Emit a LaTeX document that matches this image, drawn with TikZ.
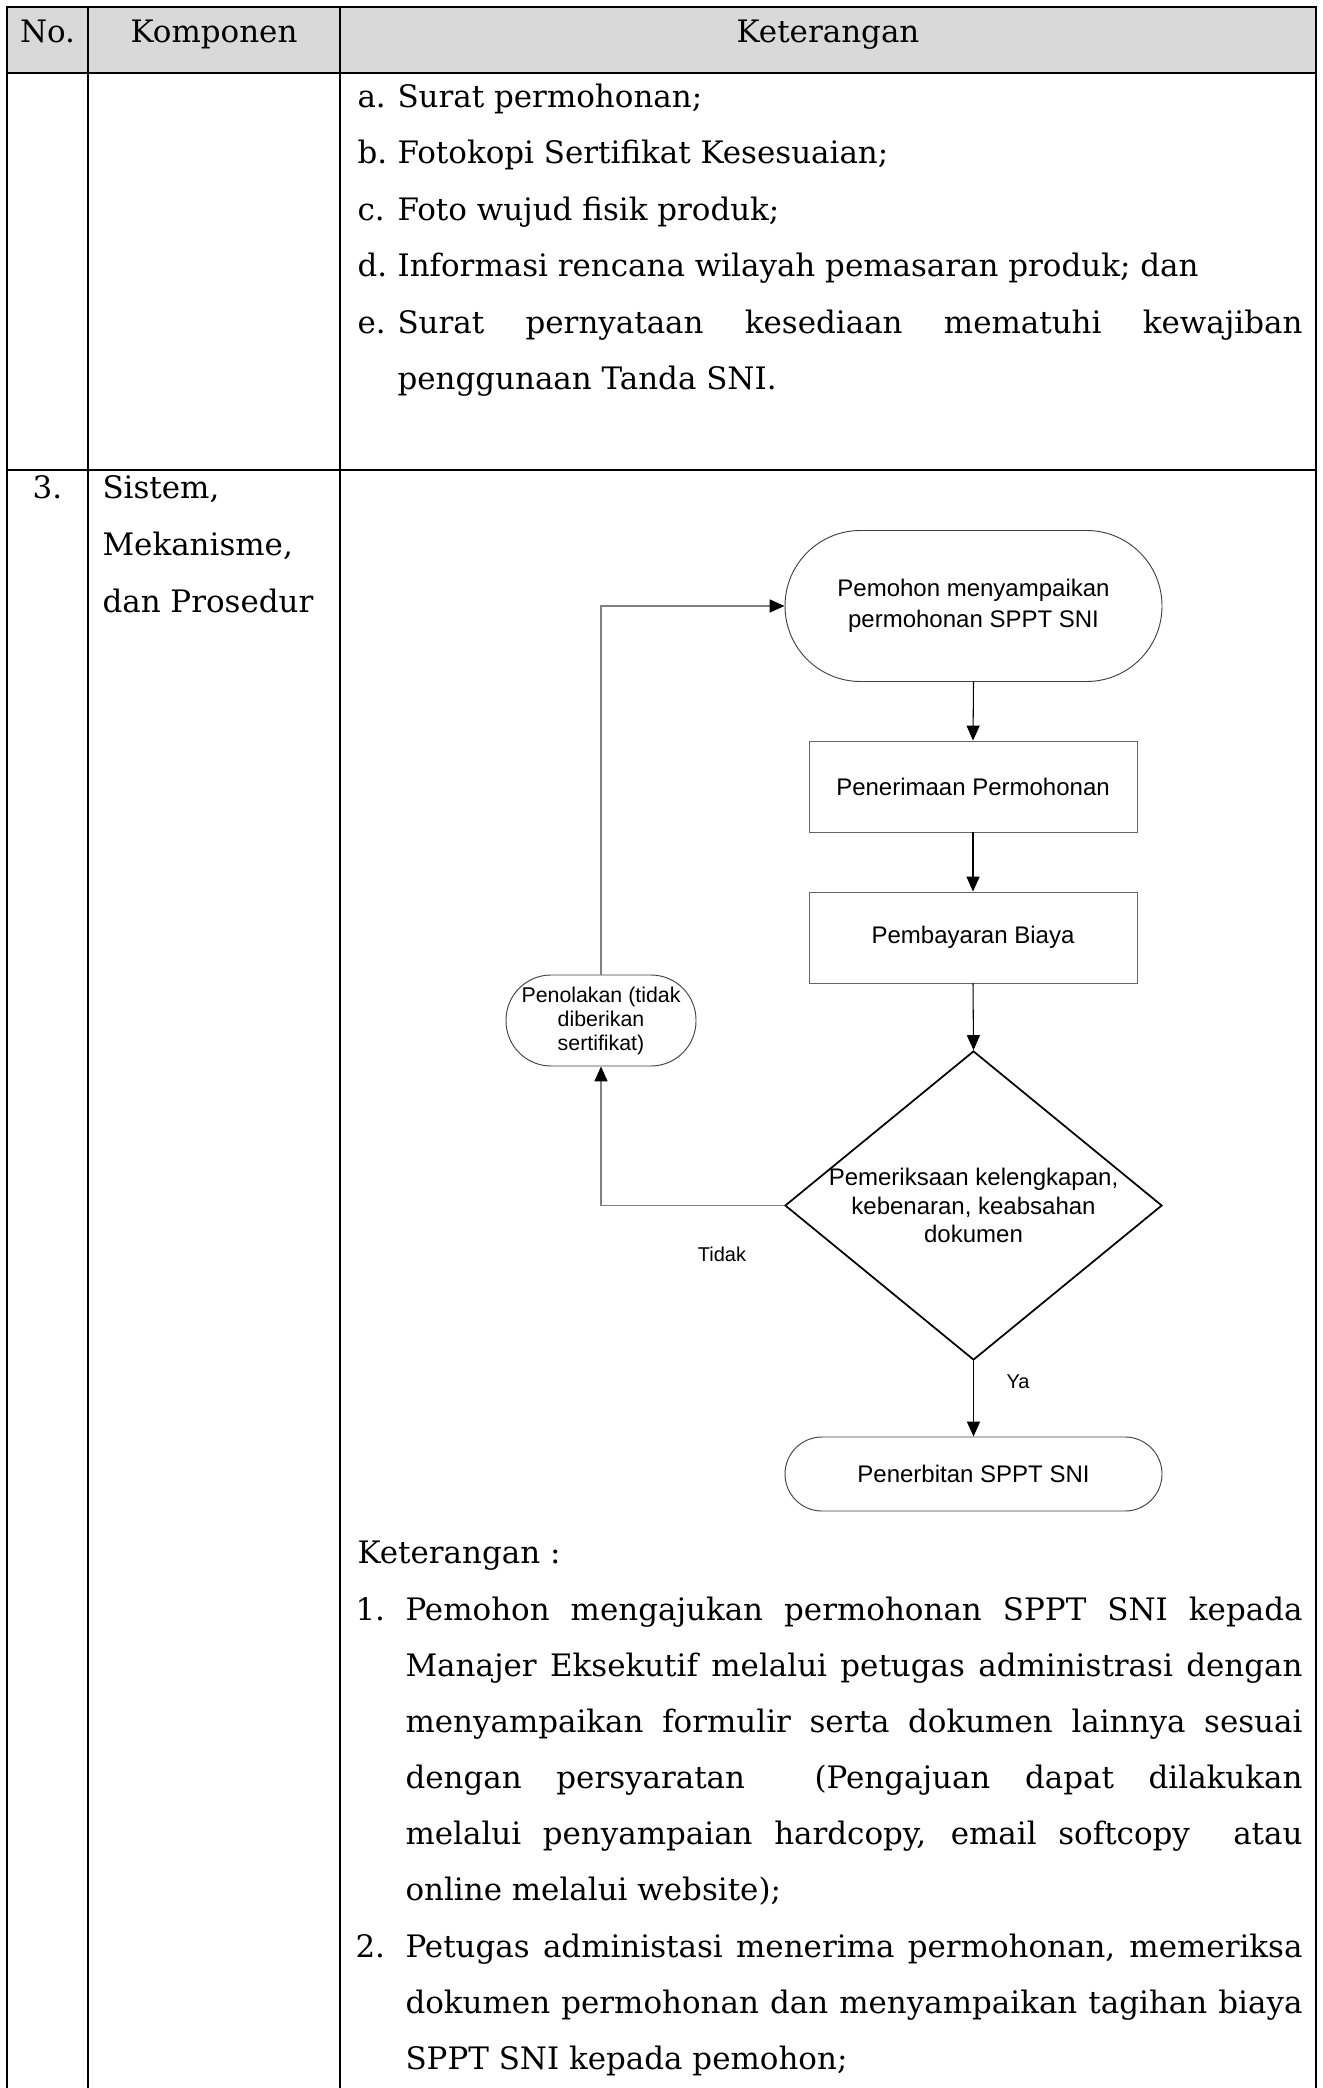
\documentclass[tikz,border=0pt]{standalone}
\usepackage{fontspec}
\setmainfont{DejaVu Serif}
\newfontfamily\arialf{Liberation Sans}
\usetikzlibrary{shapes.geometric,arrows.meta}
\begin{document}
\begin{tikzpicture}[x=0.375pt,y=-0.375pt,
  tbl/.style={line width=0.75pt,black},
  serif/.style={inner sep=0pt,font=\fontsize{11.6pt}{14pt}\selectfont},
  lft/.style={serif,anchor=base west},
  ctr/.style={serif,anchor=base},
  fc/.style={font=\arialf\fontsize{9pt}{11.5pt}\selectfont,align=center,inner sep=0pt},
  term/.style={fc,draw=black!75,line width=0.35pt,rectangle},
  procbox/.style={fc,draw=black!60,line width=0.35pt,rectangle,minimum width=123pt,minimum height=34.125pt},
  tip/.style={-{Triangle[length=5.6pt,width=4.9pt,fill=black,color=black]}},
  conn/.style={tip,black,line width=0.4pt},
  fb/.style={tip,black!50,line width=0.5pt},
  lbl/.style={font=\arialf\fontsize{7.5pt}{9pt}\selectfont,inner sep=0pt}
]
\useasboundingbox (0,0) rectangle (1322,2088);
% table
\fill[black!15] (7,7) rectangle (1316,73);
\draw[tbl] (7,2088) -- (7,7) -- (1316,7) -- (1316,2088);
\draw[tbl] (88,7) -- (88,2088);
\draw[tbl] (340,7) -- (340,2088);
\draw[tbl] (7,73) -- (1316,73);
\draw[tbl] (7,470) -- (1316,470);
% header
\node[ctr] (hno) at (47.5,43) {No.};
\node[ctr] (hkomp) at (214,43) {Komponen};
\node[ctr] (hket) at (828,43) {Keterangan};
% row 1
\node[lft] (la) at (357,108) {a.};
\node[lft] (ta) at (397,108) {Surat permohonan;};
\node[lft] (lb) at (357,164) {b.};
\node[lft] (tb) at (397,164) {Fotokopi Sertifikat Kesesuaian;};
\node[lft] (lc) at (357,221) {c.};
\node[lft] (tc) at (397,221) {Foto wujud fisik produk;};
\node[lft] (ld) at (357,277) {d.};
\node[lft] (td) at (397,277) {Informasi rencana wilayah pemasaran produk; dan};
\node[lft] (le) at (357,334) {e.};
\node[lft] (te1) at (397,334) {\makebox[339.375pt][s]{Surat pernyataan kesediaan mematuhi kewajiban}};
\node[lft] (te2) at (397,390) {penggunaan Tanda SNI.};
% row 2
\node[ctr] (n3) at (47.5,499) {3.};
\node[lft] (k1) at (102,499) {Sistem,};
\node[lft] (k2) at (102,556) {Mekanisme,};
\node[lft] (k3) at (102,613) {dan Prosedur};
% flowchart
\node[term,minimum width=141.375pt,minimum height=56.625pt,rounded corners=28.3pt] (start) at (973.5,606) {Pemohon menyampaikan\\permohonan SPPT SNI};
\node[procbox] (box1) at (973,786.5) {Penerimaan Permohonan};
\node[procbox] (box2) at (973,937.5) {Pembayaran Biaya};
\node[diamond,draw=black,line width=0.65pt,minimum width=141.375pt,minimum height=115.875pt,inner sep=0pt] (dia) at (973.5,1205.5) {};
\node[fc,font=\arialf\fontsize{9pt}{10.7pt}\selectfont] (diatxt) at (dia.center) {Pemeriksaan kelengkapan,\\kebenaran, keabsahan\\dokumen};
\node[term,minimum width=141.375pt,minimum height=27.75pt,rounded corners=13.87pt] (fin) at (973.5,1474) {Penerbitan SPPT SNI};
\node[term,font=\arialf\fontsize{8pt}{9pt}\selectfont,minimum width=71.25pt,minimum height=34.125pt,rounded corners=16.9pt] (pen) at (601,1020.5) {Penolakan (tidak\\diberikan\\sertifikat)};
\draw[conn] (start.south) -- (box1.north);
\draw[conn] (box1.south) -- (box2.north);
\draw[conn] (box2.south) -- (dia.north);
\draw[conn] (dia.south) -- (fin.north);
\draw[fb] (dia.west) -| (pen.south);
\draw[fb] (pen.north) |- (start.west);
\node[lbl] (tidak) at (722,1254) {Tidak};
\node[lbl] (ya) at (1018,1382) {Ya};
% keterangan
\node[lft] (ket) at (357,1563) {Keterangan :};
\node[lft] (l1) at (355,1620) {1.};
\node[lft] (t11) at (405,1620) {\makebox[336.375pt][s]{Pemohon mengajukan permohonan SPPT SNI kepada}};
\node[lft] (t12) at (405,1676) {\makebox[336.375pt][s]{Manajer Eksekutif melalui petugas administrasi dengan}};
\node[lft] (t13) at (405,1732) {\makebox[336.375pt][s]{menyampaikan formulir serta dokumen lainnya sesuai}};
\node[lft] (t14) at (405,1788) {\makebox[336.375pt][s]{dengan persyaratan\ \ (Pengajuan dapat dilakukan}};
\node[lft] (t15) at (405,1844) {\makebox[336.375pt][s]{melalui penyampaian hardcopy, email softcopy\ \ atau}};
\node[lft] (t16) at (405,1900) {online melalui website);};
\node[lft] (l2) at (355,1957) {2.};
\node[lft] (t21) at (405,1957) {\makebox[336.375pt][s]{Petugas administasi menerima permohonan, memeriksa}};
\node[lft] (t22) at (405,2013) {\makebox[336.375pt][s]{dokumen permohonan dan menyampaikan tagihan biaya}};
\node[lft] (t23) at (405,2069) {SPPT SNI kepada pemohon;};
\end{tikzpicture}
\end{document}
